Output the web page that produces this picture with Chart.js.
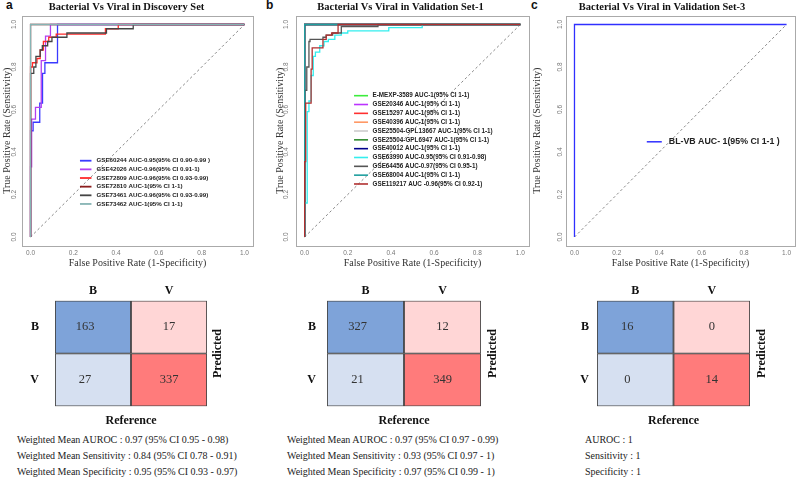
<!DOCTYPE html>
<html>
<head>
<meta charset="utf-8">
<script src="https://cdn.jsdelivr.net/npm/chart.js@4.4.0/dist/chart.umd.min.js"></script>
<style>
  body { margin: 0; background: #fff; overflow: hidden; }
  #page { position: relative; width: 796px; height: 479px; overflow: hidden; background: #fff; }
  canvas { position: absolute; }
  .letter { position: absolute; font: bold 12px "Liberation Sans", sans-serif; color: #111; }
  .stats { position: absolute; font: 10px "Liberation Serif", serif; color: #222; line-height: 16px; white-space: nowrap; }
</style>
</head>
<body>
<div id="page">
  <div class="letter" style="left:6px;top:-2px">a</div>
  <div class="letter" style="left:266px;top:-2px">b</div>
  <div class="letter" style="left:531px;top:-2px">c</div>
  <div class="stats" id="statsA" style="left:17px;top:432px"></div>
  <div class="stats" id="statsB" style="left:287px;top:432px"></div>
  <div class="stats" id="statsC" style="left:585px;top:432px"></div>
</div>
<script>
const serif = '"Liberation Serif", serif';
Chart.defaults.font.family = '"Liberation Sans", sans-serif';

// shared axis ticks
const rocTicks = [0, 0.2, 0.4, 0.6, 0.8, 1.0];
const diag = [0, 1];

// panel a: discovery set
const titleA = 'Bacterial Vs Viral in Discovery Set';
const namesA = [
  'GSE60244 AUC-0.95(95% CI 0.90-0.99 )',
  'GSE42026 AUC-0.96(95% CI 0.91-1)',
  'GSE72809 AUC-0.96(95% CI 0.93-0.99)',
  'GSE72810 AUC-1(95% CI 1-1)',
  'GSE73461 AUC-0.96(95% CI 0.93-0.99)',
  'GSE73462 AUC-1(95% CI 1-1)'
];
const colorsA = ['#3a3aff', '#b23ff0', '#ff2a2a', '#8b1c1c', '#444444', '#86b4b4'];
const fprA = [
  [0, 0, 0.012, 0.043, 0.056, 0.067, 0.126, 0.152, 1],
  [0, 0.005, 0.023, 0.05, 0.07, 0.093, 0.14, 1],
  [0, 0, 0.009, 0.03, 0.045, 0.06, 0.085, 0.12, 0.35, 0.41, 0.47, 1],
  [0, 0, 1],
  [0, 0, 0.015, 0.025, 0.045, 0.055, 0.08, 0.1, 0.17, 0.355, 0.48, 0.51, 1],
  [0, 0, 1]
];
const tprA = [
  [0, 0.27, 0.5, 0.54, 0.63, 0.77, 0.82, 1, 1],
  [0, 0.33, 0.555, 0.61, 0.83, 0.945, 1, 1],
  [0, 0.67, 0.8, 0.82, 0.84, 0.88, 0.92, 0.94, 0.955, 0.98, 1, 1],
  [0, 1, 1],
  [0, 0.65, 0.77, 0.8, 0.85, 0.88, 0.9, 0.92, 0.94, 0.96, 0.98, 1, 1],
  [0, 1, 1]
];

// panel b: validation set-1
const titleB = 'Bacterial Vs Viral in Validation Set-1';
const namesB = [
  'E-MEXP-3589 AUC-1(95% CI 1-1)',
  'GSE20346 AUC-1(95% CI 1-1)',
  'GSE15297 AUC-1(95% CI 1-1)',
  'GSE40396 AUC-1(95% CI 1-1)',
  'GSE25504-GPL13667 AUC-1(95% CI 1-1)',
  'GSE25504-GPL6947 AUC-1(95% CI 1-1)',
  'GSE40012 AUC-1(95% CI 1-1)',
  'GSE63990 AUC-0.95(95% CI 0.91-0.98)',
  'GSE64456 AUC-0.97(95% CI 0.95-1)',
  'GSE68004 AUC-1(95% CI 1-1)',
  'GSE119217 AUC -0.96(95% CI 0.92-1)'
];
const colorsB = ['#3cec3c', '#bb33ff', '#ff3030', '#ff9966', '#cccccc', '#2e8b2e', '#00008b', '#33eeee', '#555555', '#1f9e9e', '#b03030'];
const fprB = [
  [0, 0, 1], [0, 0, 1], [0, 0, 1], [0, 0, 1], [0, 0, 1], [0, 0, 1], [0, 0, 1],
  [0, 0.012, 0.02, 0.03, 0.04, 0.05, 0.07, 0.09, 0.11, 0.14, 0.17, 0.2, 0.39, 0.545, 1],
  [0, 0.01, 0.02, 0.025, 0.085, 0.1, 0.13, 0.17, 0.34, 0.84, 1],
  [0, 0, 1],
  [0, 0.005, 0.03, 0.035, 0.085, 0.1, 0.125, 0.155, 0.27, 1]
];
const tprB = [
  [0, 1, 1], [0, 1, 1], [0, 1, 1], [0, 1, 1], [0, 1, 1], [0, 1, 1], [0, 1, 1],
  [0, 0.16, 0.59, 0.64, 0.76, 0.85, 0.87, 0.9, 0.92, 0.93, 0.95, 0.96, 0.97, 0.985, 1],
  [0, 0.69, 0.8, 0.92, 0.93, 0.94, 0.95, 0.96, 0.99, 1, 1],
  [0, 1, 1],
  [0, 0.355, 0.63, 0.79, 0.89, 0.93, 0.95, 0.96, 1, 1]
];

// panel c: validation set-3
const titleC = 'Bacterial Vs Viral in Validation Set-3';
const namesC = ['BL-VB AUC- 1(95% CI 1-1 )'];
const colorsC = ['#3030ff'];
const fprC = [[0, 0, 1]];
const tprC = [[0, 1, 1]];

// confusion matrices: rows = predicted, cols = reference
const refLabels = ['B', 'V'];
const predLabels = ['B', 'V'];
const cmA = [[163, 17], [27, 337]];
const cmB = [[327, 12], [21, 349]];
const cmC = [[16, 0], [0, 14]];
const cellColors = [['#7ea3d9', '#ffd6d6'], ['#d6e0f1', '#ff7b7b']];

const statsA = ['Weighted Mean AUROC : 0.97 (95% CI 0.95 - 0.98)', 'Weighted Mean Sensitivity : 0.84 (95% CI 0.78 - 0.91)', 'Weighted Mean Specificity : 0.95 (95% CI 0.93 - 0.97)'];
const statsB = ['Weighted Mean AUROC : 0.97 (95% CI 0.97 - 0.99)', 'Weighted Mean Sensitivity : 0.93 (95% CI 0.97 - 1)', 'Weighted Mean Specificity : 0.97 (95% CI 0.99 - 1)'];
const statsC = ['AUROC : 1', 'Sensitivity : 1', 'Specificity : 1'];

function makeCanvas(left, top, w, h) {
  const cv = document.createElement('canvas');
  cv.width = w; cv.height = h;
  cv.style.left = left + 'px'; cv.style.top = top + 'px';
  document.getElementById('page').appendChild(cv);
  return cv;
}

// frame round the plot region, like R's box()
const plotBox = {
  id: 'plotBox',
  beforeDatasetsDraw(chart) {
    const a = chart.chartArea, ctx = chart.ctx;
    ctx.save();
    ctx.strokeStyle = '#aaaaaa';
    ctx.lineWidth = 1;
    ctx.strokeRect(Math.round(a.left) + 0.5, Math.round(a.top) + 0.5, Math.round(a.right - a.left), Math.round(a.bottom - a.top));
    ctx.restore();
  }
};

// legend drawn inside the plot, no box
const rocLegend = {
  id: 'rocLegend',
  afterDatasetsDraw(chart, args, o) {
    const ctx = chart.ctx, sx = chart.scales.x, sy = chart.scales.y;
    const px = sx.getPixelForValue(o.x);
    let py = sy.getPixelForValue(o.y);
    ctx.save();
    ctx.font = o.font;
    ctx.textAlign = 'left';
    ctx.textBaseline = 'middle';
    chart.data.datasets.forEach(ds => {
      if (ds.isDiag) return;
      ctx.strokeStyle = ds.borderColor;
      ctx.lineWidth = o.lineWidth;
      ctx.beginPath();
      ctx.moveTo(px, py);
      ctx.lineTo(px + o.lineLen, py);
      ctx.stroke();
      ctx.fillStyle = '#222';
      ctx.fillText(ds.label, px + o.lineLen + o.gap, py);
      py += o.rowH;
    });
    ctx.restore();
  }
};

function rocChart(cfg) {
  const cv = makeCanvas(cfg.left, 0, cfg.width, 270);
  const datasets = cfg.names.map((name, i) => ({
    label: name,
    data: cfg.fpr[i].map((x, j) => ({ x: x, y: cfg.tpr[i][j] })),
    borderColor: cfg.colors[i],
    borderWidth: 1.3,
    pointRadius: 0,
    showLine: true,
    stepped: 'after',
    order: cfg.names.length - i
  }));
  datasets.push({
    label: '', isDiag: true,
    data: diag.map(v => ({ x: v, y: v })),
    borderColor: '#555', borderWidth: 0.7, borderDash: [2.5, 2.5],
    pointRadius: 0, showLine: true, order: 99
  });
  new Chart(cv, {
    type: 'scatter',
    data: { datasets: datasets },
    plugins: [plotBox, rocLegend],
    options: {
      responsive: false,
      animation: false,
      layout: { padding: { left: 0, right: cfg.padRight, top: 0, bottom: 0 } },
      plugins: {
        legend: { display: false },
        tooltip: { enabled: false },
        title: {
          display: true, text: cfg.title, color: '#111',
          font: { family: serif, size: 10.5, weight: 'bold' },
          padding: { top: 1, bottom: 2.4 }
        },
        rocLegend: cfg.legend
      },
      scales: {
        x: {
          type: 'linear', min: -0.04, max: 1.04,
          grid: { display: false, drawTicks: false },
          border: { display: false },
          afterBuildTicks: s => { s.ticks = rocTicks.map(v => ({ value: v })); },
          afterFit: s => { s.height = 24.5; },
          ticks: { autoSkip: false, maxRotation: 0, padding: 3.5, color: '#777', font: { size: 6.5 }, callback: v => v.toFixed(1) },
          title: { display: true, text: 'False Positive Rate (1-Specificity)', color: '#333', font: { family: serif, size: 10 }, padding: { top: 0, bottom: 1 } }
        },
        y: {
          type: 'linear', min: -0.04, max: 1.04,
          grid: { display: false, drawTicks: false },
          border: { display: false },
          afterBuildTicks: s => { s.ticks = rocTicks.map(v => ({ value: v })); },
          afterFit: s => { s.width = cfg.yWidth; },
          ticks: { autoSkip: false, minRotation: 90, maxRotation: 90, crossAlign: 'center', padding: cfg.yTickPad, color: '#777', font: { size: 6.5 }, callback: v => v.toFixed(1) },
          title: { display: true, text: 'True Positive Rate (Sensitivity)', color: '#333', font: { family: serif, size: 10 }, padding: { top: cfg.yTitlePad, bottom: 0 } }
        }
      }
    }
  });
}

rocChart({ left: 0, width: 258, padRight: 5, yWidth: 22, yTickPad: 3, yTitlePad: 1,
  title: titleA, names: namesA, colors: colorsA, fpr: fprA, tpr: tprA,
  legend: { x: 0.231, y: 0.359, lineLen: 11.5, gap: 5, rowH: 8.65, lineWidth: 1.8, font: 'bold 6.2px "Liberation Sans"' } });
rocChart({ left: 272, width: 265, padRight: 8, yWidth: 24, yTickPad: 5.3, yTitlePad: 2,
  title: titleB, names: namesB, colors: colorsB, fpr: fprB, tpr: tprB,
  legend: { x: 0.229, y: 0.665, lineLen: 14, gap: 4.5, rowH: 8.83, lineWidth: 1.6, font: 'bold 6.3px "Liberation Sans"' } });
rocChart({ left: 529, width: 285, padRight: 19, yWidth: 37, yTickPad: 1, yTitlePad: 2,
  title: titleC, names: namesC, colors: colorsC, fpr: fprC, tpr: tprC,
  legend: { x: 0.341, y: 0.448, lineLen: 15, gap: 7, rowH: 10, lineWidth: 1.5, font: 'bold 8.8px "Liberation Sans"' } });

// counts and side title for the confusion matrices
const matrixText = {
  id: 'matrixText',
  afterDatasetsDraw(chart, args, o) {
    const ctx = chart.ctx, a = chart.chartArea;
    ctx.save();
    ctx.textAlign = 'center';
    ctx.textBaseline = 'middle';
    ctx.font = '12.5px ' + serif;
    ctx.fillStyle = '#333';
    chart.data.datasets.forEach((ds, di) => {
      chart.getDatasetMeta(di).data.forEach((bar, ci) => {
        ctx.fillText(String(ds.counts[ci]), bar.x + o.shift[ci], (bar.y + bar.base) / 2);
      });
    });
    ctx.translate(a.right + o.sideGap, (a.top + a.bottom) / 2);
    ctx.rotate(-Math.PI / 2);
    ctx.font = 'bold 12px ' + serif;
    ctx.fillStyle = '#111';
    ctx.fillText(o.sideTitle, 0, 0);
    ctx.restore();
  }
};

function matrixChart(cm, cellL, cellR, rowLabelX, predX) {
  const canvasLeft = rowLabelX - 15;
  const right = predX + 10;
  const cv = makeCanvas(canvasLeft, 276, right - canvasLeft, 154);
  // bottom row (V) first so it stacks at the base
  const rows = [1, 0];
  const datasets = rows.map(r => ({
    label: predLabels[r],
    data: refLabels.map(() => 1),
    counts: cm[r],
    backgroundColor: cellColors[r],
    borderColor: '#444',
    borderWidth: 1.2,
    borderSkipped: false,
    barPercentage: 1,
    categoryPercentage: 1
  }));
  new Chart(cv, {
    type: 'bar',
    data: { labels: refLabels, datasets: datasets },
    plugins: [matrixText],
    options: {
      responsive: false,
      animation: false,
      layout: { padding: { left: 0, right: right - cellR, top: 0, bottom: 0 } },
      plugins: {
        legend: { display: false },
        tooltip: { enabled: false },
        matrixText: { shift: [-8, 0], sideTitle: 'Predicted', sideGap: predX - cellR }
      },
      scales: {
        x: {
          position: 'top', stacked: true,
          grid: { display: false, drawTicks: false }, border: { display: false },
          afterFit: s => { s.height = 24.7; },
          ticks: { padding: 3, color: '#111', font: { family: serif, size: 12, weight: 'bold' } }
        },
        x2: {
          type: 'category', axis: 'x', position: 'bottom',
          grid: { display: false, drawTicks: false }, border: { display: false },
          afterFit: s => { s.height = 23.7; },
          ticks: { display: false },
          title: { display: true, text: 'Reference', color: '#111', font: { family: serif, size: 12, weight: 'bold' }, padding: { top: 0, bottom: 2.3 } }
        },
        y: {
          type: 'linear', min: 0, max: 2, stacked: true,
          grid: { display: false, drawTicks: false }, border: { display: false },
          afterBuildTicks: s => { s.ticks = [0.5, 1.5].map(v => ({ value: v })); },
          afterFit: s => { s.width = cellL - canvasLeft; },
          ticks: { padding: cellL - rowLabelX - 4, color: '#111', font: { family: serif, size: 12, weight: 'bold' },
                   callback: v => (v > 1 ? predLabels[0] : predLabels[1]) }
        }
      }
    }
  });
}

matrixChart(cmA, 55, 207, 35, 218);
matrixChart(cmB, 327, 481, 312, 493);
matrixChart(cmC, 597, 750, 585, 762);

document.getElementById('statsA').innerHTML = statsA.join('<br>');
document.getElementById('statsB').innerHTML = statsB.join('<br>');
document.getElementById('statsC').innerHTML = statsC.join('<br>');
</script>
</body>
</html>
